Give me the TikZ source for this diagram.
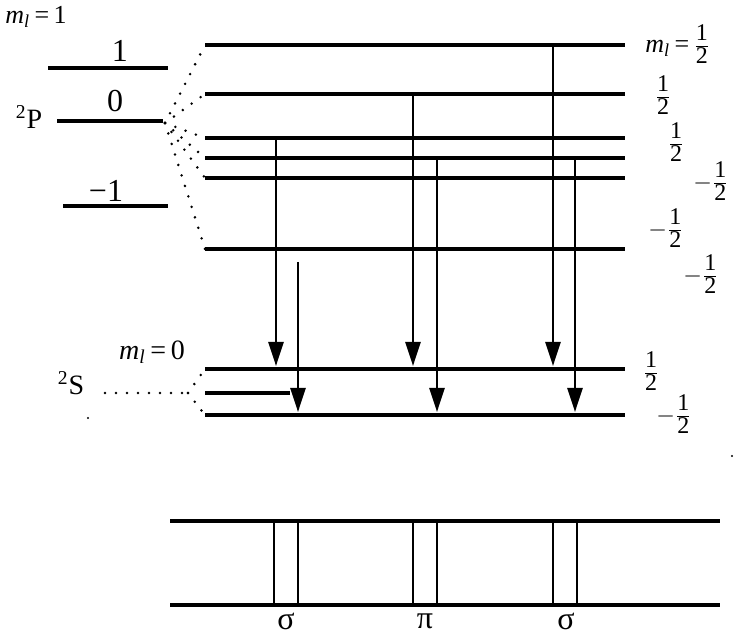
\documentclass[tikz,border=0pt]{standalone}
\usepackage{fontspec}
\setmainfont{Liberation Serif}
\usetikzlibrary{arrows.meta}
\newcommand\mydig[1]{\mbox{\fontsize{12}{13}\selectfont #1}}
\newcommand\myhalf{$\frac{\raisebox{1pt}{\mydig{1}}}{\raisebox{-0.5pt}{\mydig{2}}}$}
\newcommand\mymhalf{$-\frac{\raisebox{1pt}{\mydig{1}}}{\raisebox{-0.5pt}{\mydig{2}}}$}
\newcommand\myml{\textit{m}\textsubscript{\textit{l}}}
\begin{document}
\begin{tikzpicture}[x=0.5pt,y=-0.5pt,
  level/.style={line width=2pt},
  fan/.style={line width=1.4pt, line cap=round, dash pattern=on 0pt off 5.5pt},
  trans/.style={line width=1.3pt, -{Triangle[length=12pt,width=7.5pt]}},
  comp/.style={line width=1.3pt},
  biglbl/.style={inner sep=0pt, font=\fontsize{16}{18}\selectfont},
  midlbl/.style={inner sep=0pt, font=\fontsize{14}{16}\selectfont},
  rlbl/.style={inner sep=0pt, font=\fontsize{13}{15}\selectfont},
  speck/.style={fill=black},
 ]
\useasboundingbox (0,0) rectangle (735,635);

% ---- 2P levels (no field)
\coordinate (p1l) at (48,68);  \coordinate (p1r) at (168,68);
\coordinate (p0l) at (57,121); \coordinate (p0r) at (163,121);
\coordinate (pml) at (63,206); \coordinate (pmr) at (168,206);
\draw[level] (p1l) -- (p1r);
\draw[level] (p0l) -- (p0r);
\draw[level] (pml) -- (pmr);
\node[rlbl, anchor=west] (mlone) at (5,17) {\myml\,=\,1};
\node[biglbl] (lone) at (120,51) {1};
\node[biglbl] (lzero) at (115,101) {0};
\node[biglbl] (lmone) at (106,191) {−1};
\node[midlbl] (Pterm) at (29,117) {\textsuperscript{2}P};

% ---- Zeeman split 2P levels
\foreach \i/\y in {1/45,2/94,3/138,4/158,5/178,6/249}{
  \coordinate (a\i) at (205,\y);
  \coordinate (b\i) at (625,\y);
  \draw[level] (a\i) -- (b\i);
}
\coordinate (fo) at (165,123);
\foreach \i in {1,...,6}{ \draw[fan] (fo) -- (a\i); }

\node[rlbl, anchor=west] (rl1) at (645,44) {\myml\,=\,\myhalf};
\node[rlbl] (rl2) at (663,95) {\myhalf};
\node[rlbl] (rl3) at (676,142) {\myhalf};
\node[rlbl] (rl4) at (711,181) {\mymhalf};
\node[rlbl] (rl5) at (666,228) {\mymhalf};
\node[rlbl] (rl6) at (701,274) {\mymhalf};

% ---- 2S levels
\coordinate (s1l) at (205,369); \coordinate (s1r) at (625,369);
\coordinate (s2l) at (205,393); \coordinate (s2r) at (290,393);
\coordinate (s3l) at (205,415); \coordinate (s3r) at (625,415);
\draw[level] (s1l) -- (s1r);
\draw[level] (s2l) -- (s2r);
\draw[level] (s3l) -- (s3r);
\coordinate (sd) at (105,393);
\coordinate (so) at (188,393);
\draw[fan] (sd) -- (so);
\draw[fan] (so) -- (s1l);
\draw[fan] (so) -- (s3l);
\node[midlbl] (Sterm) at (71,383) {\textsuperscript{2}S};
\node[rlbl, font=\fontsize{14}{16}\selectfont] (mlzero) at (152,352) {\myml\,=\,0};
\node[rlbl] (sl1) at (651,371) {\myhalf};
\node[rlbl] (sl2) at (674,414) {\mymhalf};

% ---- transitions
\coordinate (tA0) at (276,138); \coordinate (tA1) at (276,366);
\coordinate (tB0) at (298,262); \coordinate (tB1) at (298,412);
\coordinate (tC0) at (413,94);  \coordinate (tC1) at (413,366);
\coordinate (tD0) at (437,158); \coordinate (tD1) at (437,412);
\coordinate (tE0) at (553,45);  \coordinate (tE1) at (553,366);
\coordinate (tF0) at (575,158); \coordinate (tF1) at (575,412);
\foreach \t in {A,B,C,D,E,F}{ \draw[trans] (t\t0) -- (t\t1); }

% ---- spectrum
\coordinate (q1l) at (170,521); \coordinate (q1r) at (720,521);
\coordinate (q2l) at (170,605); \coordinate (q2r) at (720,605);
\draw[level] (q1l) -- (q1r);
\draw[level] (q2l) -- (q2r);
\foreach \x in {274,298,413,437,553,577}{
  \coordinate (u\x) at (\x,521); \coordinate (v\x) at (\x,605);
  \draw[comp] (u\x) -- (v\x);
}
\node[biglbl] (sig1) at (286,621) {σ};
\node[biglbl] (pi1) at (425,621) {π};
\node[biglbl] (sig2) at (566,621) {σ};

% ---- specks
\fill[speck] (88,418) circle (1.2);
\fill[speck] (732,456) circle (1.2);
\end{tikzpicture}
\end{document}
